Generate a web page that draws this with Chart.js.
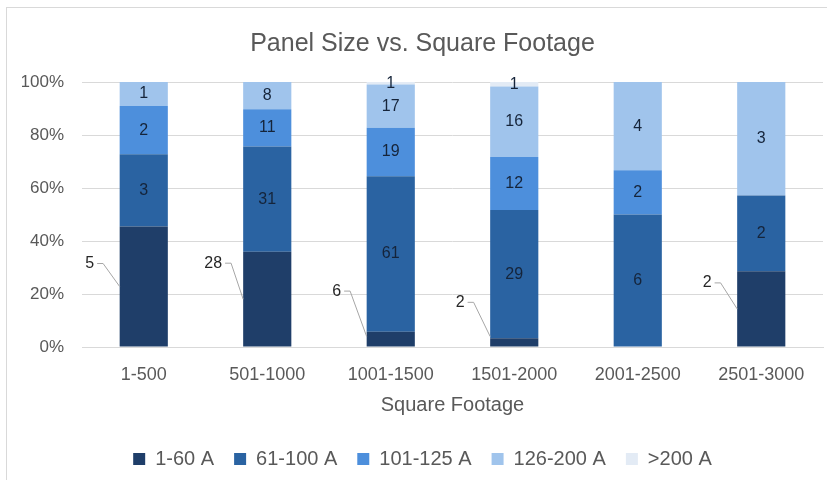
<!DOCTYPE html>
<html>
<head>
<meta charset="utf-8">
<script src="https://cdn.jsdelivr.net/npm/chart.js@4.4.0/dist/chart.umd.min.js"></script>
<style>
  body { margin: 0; background: #fff; }
  #wrap { position: relative; width: 827px; height: 480px; overflow: hidden; }
  #frame { position: absolute; left: 6px; top: 7px; width: 900px; height: 600px; border: 1px solid #d9d9d9; }
  canvas { position: absolute; left: 0; top: 0; }
</style>
</head>
<body>
<div id="wrap">
  <div id="frame"></div>
  <canvas id="mycanvas" width="827" height="480"></canvas>
</div>
<script>
// categories and counts per panel size
var categories = ['1-500', '501-1000', '1001-1500', '1501-2000', '2001-2500', '2501-3000'];
var seriesNames = ['1-60 A', '61-100 A', '101-125 A', '126-200 A', '>200 A'];
var amp1to60 = [5, 28, 6, 2, 0, 2];
var amp61to100 = [3, 31, 61, 29, 6, 2];
var amp101to125 = [2, 11, 19, 12, 2, 0];
var amp126to200 = [1, 8, 17, 16, 4, 3];
var ampOver200 = [0, 0, 1, 1, 0, 0];
var yTicks = [0, 20, 40, 60, 80, 100];

var counts = [amp1to60, amp61to100, amp101to125, amp126to200, ampOver200];
var colors = ['#1f3e69', '#2a63a2', '#4d8fdc', '#a0c4ec', '#e3ebf5'];

var totals = categories.map(function(c, j) {
	var t = 0;
	for (var i = 0; i < counts.length; i++) t += counts[i][j];
	return t;
});

var datasets = counts.map(function(arr, i) {
	return {
		label: seriesNames[i],
		data: arr.map(function(v, j) { return v / totals[j] * 100; }),
		backgroundColor: colors[i],
		borderWidth: 0,
		barPercentage: 0.39,
		categoryPercentage: 1
	};
});

var FONT = '"Liberation Sans", Arial, sans-serif';

// value labels, first series drawn outside with a leader line
var valueLabels = {
	id: 'valueLabels',
	afterDatasetsDraw: function(chart, args, opts) {
		var ctx = chart.ctx;
		ctx.save();
		ctx.font = '16px ' + FONT;
		ctx.textAlign = 'center';
		ctx.textBaseline = 'middle';
		for (var i = 0; i < counts.length; i++) {
			var meta = chart.getDatasetMeta(i);
			for (var j = 0; j < categories.length; j++) {
				var v = counts[i][j];
				if (!v) continue;
				var bar = meta.data[j];
				var p = bar.getProps(['x', 'y', 'base', 'width'], true);
				var mid = (p.y + p.base) / 2;
				if (i === 0) {
					var left = p.x - p.width / 2;
					var lx = left - 30;
					var ly = mid + opts.outsideDy[j];
					var tw = ctx.measureText(String(v)).width;
					ctx.fillStyle = '#262626';
					ctx.fillText(String(v), lx, ly);
					ctx.strokeStyle = '#a6a6a6';
					ctx.lineWidth = 1;
					ctx.beginPath();
					ctx.moveTo(lx + tw / 2 + 3, ly);
					ctx.lineTo(lx + tw / 2 + 9, ly);
					ctx.lineTo(left, Math.min(mid, p.base - 10));
					ctx.stroke();
				} else {
					ctx.fillStyle = '#15243a';
					ctx.fillText(String(v), p.x, mid);
				}
			}
		}
		ctx.restore();
	}
};

var ctx = document.getElementById('mycanvas');

var barGraph = new Chart(ctx, {
	type: 'bar',
	data: { labels: categories, datasets: datasets },
	plugins: [valueLabels],
	options: {
		responsive: false,
		animation: false,
		layout: { padding: { left: 22, right: 4, top: 0, bottom: 1 } },
		plugins: {
			tooltip: { enabled: false },
			title: {
				display: true,
				text: 'Panel Size vs. Square Footage',
				color: '#595959',
				font: { family: FONT, size: 25, weight: 'normal' },
				padding: { top: 29, bottom: 23 }
			},
			legend: {
				position: 'bottom',
				labels: {
					color: '#595959',
					font: { family: FONT, size: 20 },
					boxWidth: 12,
					boxHeight: 12,
					padding: 20
				}
			},
			valueLabels: { outsideDy: [-23, -36, -48, -40, 0, -26] }
		},
		scales: {
			x: {
				stacked: true,
				grid: { display: false, drawTicks: false },
				border: { display: true, color: '#d9d9d9' },
				ticks: { color: '#595959', font: { family: FONT, size: 18 }, padding: 17, maxRotation: 0 },
				title: {
					display: true,
					text: 'Square Footage',
					color: '#595959',
					font: { family: FONT, size: 20 },
					padding: { top: 0, bottom: 12 }
				},
				afterFit: function(scale) { scale.height = 82; }
			},
			y: {
				stacked: true,
				min: 0,
				max: 100,
				afterBuildTicks: function(scale) {
					scale.ticks = yTicks.map(function(v) { return { value: v }; });
				},
				grid: { color: '#d9d9d9', drawTicks: false },
				border: { display: false },
				ticks: {
					color: '#595959',
					font: { family: FONT, size: 17 },
					padding: 18,
					callback: function(v) { return v + '%'; }
				},
				afterFit: function(scale) { scale.width = 60; }
			}
		}
	}
});
</script>
</body>
</html>
